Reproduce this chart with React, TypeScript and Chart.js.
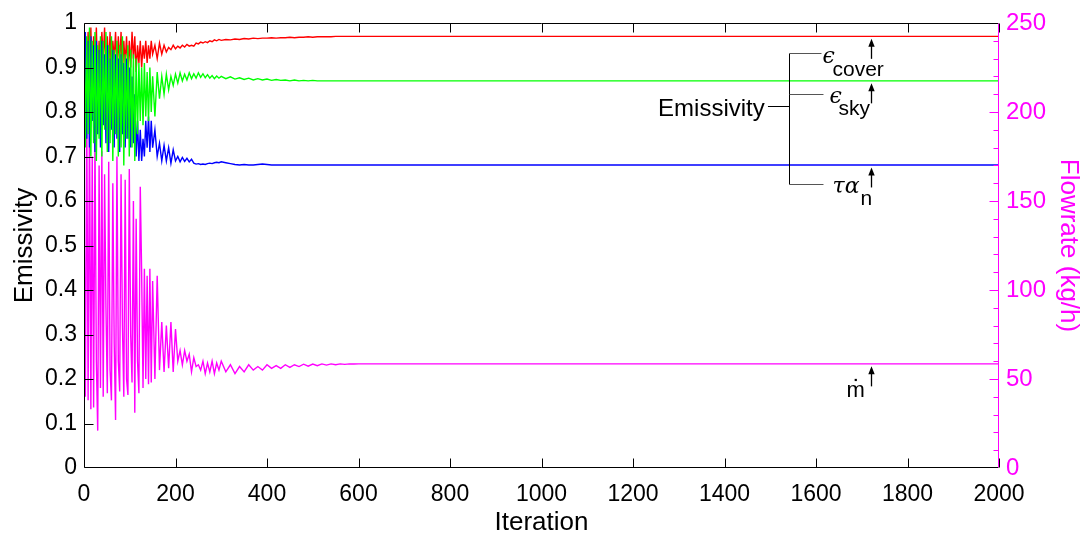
import React, { useEffect, useRef } from "react";
import { Chart, registerables } from "chart.js";

Chart.register(...registerables);

// Iteration sample positions (x values)
const ITERATIONS = [
  0, 3, 6, 9, 12, 15, 18, 21, 24, 27, 30, 33, 36, 39, 42, 45, 48, 51, 54, 57,
  60, 63, 66, 69, 72, 75, 78, 81, 84, 87, 90, 93, 96, 99, 102, 105, 108, 111, 114, 117,
  120, 123, 126, 129, 132, 135, 138, 141, 144, 147, 150,
  155, 160, 165, 170, 175, 180, 185, 190, 195, 200, 205, 210, 215, 220, 225, 230, 235, 240, 245,
  250, 255, 260, 265, 270, 275, 280, 285, 290, 295, 300,
  310, 320, 330, 340, 350, 360, 370, 380, 390, 400, 410, 420, 430, 440, 450, 460, 470, 480, 490,
  500, 510, 520, 530, 540, 550, 560, 570, 580, 590, 600,
  650, 700, 800, 2000,
];

// Cover emissivity (red)
const EPS_COVER = [
  0.83, 0.97, 0.88, 0.98, 0.90, 0.99, 0.86, 0.97, 0.91, 0.99,
  0.87, 0.96, 0.89, 0.98, 0.92, 0.99, 0.88, 0.97, 0.90, 0.98,
  0.87, 0.96, 0.92, 0.98, 0.89, 0.97, 0.91, 0.98, 0.88, 0.96,
  0.91, 0.97, 0.89, 0.96, 0.90, 0.98, 0.92, 0.97, 0.89, 0.95,
  0.91, 0.96, 0.90, 0.95, 0.92, 0.96, 0.91, 0.95, 0.92, 0.96,
  0.93,
  0.95, 0.92, 0.955, 0.93, 0.95, 0.935, 0.945, 0.94, 0.95, 0.942,
  0.948, 0.944, 0.95, 0.946, 0.952, 0.948, 0.95, 0.948, 0.955, 0.953,
  0.957, 0.955, 0.958, 0.956, 0.96, 0.958, 0.962, 0.96, 0.963, 0.961,
  0.963, 0.962, 0.964, 0.963, 0.965, 0.964, 0.966, 0.965, 0.966, 0.966,
  0.967, 0.966, 0.967, 0.967, 0.968, 0.967, 0.968, 0.968, 0.969, 0.968,
  0.969, 0.969, 0.969, 0.969, 0.97, 0.97, 0.97, 0.97, 0.97, 0.97,
  0.97, 0.97, 0.97, 0.97,
];

// Sky emissivity (green)
const EPS_SKY = [
  0.99, 0.72, 0.97, 0.75, 0.99, 0.70, 0.96, 0.73, 0.98, 0.69,
  0.95, 0.74, 0.97, 0.70, 0.96, 0.76, 0.98, 0.71, 0.95, 0.73,
  0.97, 0.69, 0.94, 0.75, 0.96, 0.70, 0.95, 0.72, 0.97, 0.68,
  0.93, 0.74, 0.95, 0.70, 0.94, 0.72, 0.93, 0.69, 0.92, 0.75,
  0.91, 0.78, 0.90, 0.77, 0.91, 0.79, 0.89, 0.78, 0.90, 0.80,
  0.88,
  0.79, 0.89, 0.83, 0.88, 0.84, 0.885, 0.85, 0.88, 0.86, 0.885,
  0.865, 0.888, 0.87, 0.885, 0.872, 0.888, 0.875, 0.886, 0.876, 0.888,
  0.878, 0.886, 0.877, 0.884, 0.876, 0.882, 0.875, 0.881, 0.876, 0.88,
  0.875, 0.879, 0.874, 0.877, 0.873, 0.876, 0.872, 0.875, 0.872, 0.874,
  0.871, 0.873, 0.871, 0.872, 0.870, 0.872, 0.870, 0.871, 0.870, 0.871,
  0.870, 0.870, 0.870, 0.870, 0.870, 0.870, 0.870, 0.870, 0.870, 0.870,
  0.87, 0.87, 0.87, 0.87,
];

// Transmittance-absorptance product (blue)
const TAU_ALPHA = [
  0.80, 0.98, 0.74, 0.96, 0.72, 0.97, 0.78, 0.95, 0.71, 0.96,
  0.75, 0.94, 0.72, 0.96, 0.77, 0.93, 0.73, 0.95, 0.71, 0.92,
  0.76, 0.94, 0.72, 0.93, 0.74, 0.92, 0.71, 0.93, 0.75, 0.91,
  0.72, 0.92, 0.74, 0.90, 0.72, 0.88, 0.73, 0.84, 0.70, 0.78,
  0.69, 0.76, 0.69, 0.74, 0.70, 0.78, 0.72, 0.79, 0.71, 0.78,
  0.72,
  0.76, 0.70, 0.73, 0.69, 0.725, 0.69, 0.72, 0.685, 0.715, 0.69,
  0.70, 0.688, 0.698, 0.689, 0.696, 0.688, 0.694, 0.685, 0.683, 0.684,
  0.682, 0.683, 0.682, 0.684, 0.685, 0.684, 0.686, 0.687, 0.686, 0.688,
  0.686, 0.684, 0.682, 0.681, 0.682, 0.681, 0.681, 0.682, 0.683, 0.682,
  0.681, 0.681, 0.681, 0.681, 0.681, 0.681, 0.681, 0.681, 0.681, 0.681,
  0.681, 0.681, 0.681, 0.681, 0.681, 0.681, 0.681, 0.681, 0.681, 0.681,
  0.681, 0.681, 0.681, 0.681,
];

// Flowrate in kg/h (magenta, right axis)
const FLOWRATE = [
  150, 40, 200, 38, 195, 33, 175, 34, 185, 60,
  21, 170, 45, 178, 40, 165, 90, 42, 172, 55,
  38, 160, 70, 27, 175, 60, 43, 165, 80, 40,
  162, 50, 41, 168, 75, 48, 150, 31, 140, 60,
  42, 158, 110, 45, 112, 50, 108, 47, 112, 48,
  105,
  50, 108, 55, 82, 54, 80, 56, 82, 54, 78,
  60, 66, 58, 66, 60, 64, 54, 62, 57, 58,
  55, 60, 53, 59, 54, 60, 53, 59, 55, 60,
  54, 58, 53, 57, 54, 58, 55, 57, 55, 58,
  56, 57.5, 56, 58, 56.5, 58, 57, 58.3, 57.2, 58.4,
  57.5, 58.5, 57.8, 58.5, 58, 58.5, 58.2, 58.5, 58.4, 58.5,
  58.5, 58.5, 58.5, 58.5,
];

const X_TICKS = [0, 200, 400, 600, 800, 1000, 1200, 1400, 1600, 1800, 2000];
const Y_TICKS = [0.1, 0.2, 0.3, 0.4, 0.5, 0.6, 0.7, 0.8, 0.9];
const Y1_MAJOR_TICKS = [50, 100, 150, 200];
const Y1_MINOR_TICKS = [10, 20, 30, 40, 60, 70, 80, 90, 110, 120, 130, 140, 160, 170, 180, 190, 210, 220, 230, 240];

const FONT = '"Liberation Sans", Arial, Helvetica, sans-serif';
const SERIF = '"DejaVu Serif", "Liberation Serif", serif';
const MAGENTA = "#ff00ff";

export default function App() {
  const ref = useRef<HTMLCanvasElement>(null);

  useEffect(() => {
    document.body.style.margin = "0";
    const canvas = ref.current;
    if (!canvas) return;
    const pts = (vals: number[]) => ITERATIONS.map((x, i) => ({ x, y: vals[i] }));

    const frame = {
      id: "frame",
      afterDraw(chart: any) {
        const { ctx, chartArea: ca } = chart;
        const xs = chart.scales.x;
        const ys = chart.scales.y;
        const y1 = chart.scales.y1;
        const L = Math.floor(ca.left) + 0.5;
        const R = Math.ceil(ca.right) - 0.5;
        const T = Math.floor(ca.top) + 0.5;
        const B = Math.ceil(ca.bottom) - 0.5;
        ctx.save();
        ctx.lineWidth = 1;
        ctx.strokeStyle = "#000";
        ctx.beginPath();
        ctx.moveTo(R, T);
        ctx.lineTo(L, T);
        ctx.lineTo(L, B);
        ctx.lineTo(R, B);
        ctx.stroke();
        ctx.beginPath();
        for (const v of X_TICKS) {
          const p = Math.round(xs.getPixelForValue(v)) + 0.5;
          ctx.moveTo(p, B);
          ctx.lineTo(p, B - 9);
          ctx.moveTo(p, T);
          ctx.lineTo(p, T + 9);
        }
        for (const v of Y_TICKS) {
          const p = Math.round(ys.getPixelForValue(v)) + 0.5;
          ctx.moveTo(L, p);
          ctx.lineTo(L + 9, p);
        }
        ctx.stroke();
        ctx.strokeStyle = MAGENTA;
        ctx.beginPath();
        ctx.moveTo(R, T);
        ctx.lineTo(R, B);
        for (const v of Y1_MAJOR_TICKS) {
          const p = Math.round(y1.getPixelForValue(v)) + 0.5;
          ctx.moveTo(R, p);
          ctx.lineTo(R - 9, p);
        }
        for (const v of Y1_MINOR_TICKS) {
          const p = Math.round(y1.getPixelForValue(v)) + 0.5;
          ctx.moveTo(R, p);
          ctx.lineTo(R - 5, p);
        }
        ctx.stroke();

        // Annotation: bracket
        const px = (it: number) => xs.getPixelForValue(it);
        const py = (v: number) => ys.getPixelForValue(v);
        const bx = Math.round(px(1540)) + 0.5;
        const yTop = Math.round(py(0.933)) + 0.5;
        const yMid = Math.round(py(0.840)) + 0.5;
        const yBot = Math.round(py(0.638)) + 0.5;
        const yCon = Math.round(py(0.813)) + 0.5;
        const hx = px(1612);
        ctx.strokeStyle = "#000";
        ctx.beginPath();
        ctx.moveTo(bx, yTop);
        ctx.lineTo(bx, yBot);
        ctx.moveTo(px(1495), yCon);
        ctx.lineTo(bx, yCon);
        ctx.stroke();
        ctx.strokeStyle = "#555";
        ctx.beginPath();
        ctx.moveTo(bx, yTop);
        ctx.lineTo(hx, yTop);
        ctx.moveTo(bx, yMid);
        ctx.lineTo(hx + 2, yMid);
        ctx.moveTo(bx, yBot);
        ctx.lineTo(hx + 2, yBot);
        ctx.stroke();

        ctx.fillStyle = "#000";
        ctx.font = `24px ${FONT}`;
        ctx.textAlign = "right";
        ctx.textBaseline = "alphabetic";
        ctx.fillText("Emissivity", px(1488), py(0.791));

        const ax = Math.round(px(1720)) + 0.5;
        const finals = [
          py(EPS_COVER[EPS_COVER.length - 1]),
          py(EPS_SKY[EPS_SKY.length - 1]),
          py(TAU_ALPHA[TAU_ALPHA.length - 1]),
          y1.getPixelForValue(FLOWRATE[FLOWRATE.length - 1]),
        ];
        ctx.strokeStyle = "#000";
        ctx.lineWidth = 1.3;
        for (const f of finals) {
          const tip = f + 2.5;
          ctx.beginPath();
          ctx.moveTo(ax, tip + 6);
          ctx.lineTo(ax, tip + 20);
          ctx.stroke();
          ctx.beginPath();
          ctx.moveTo(ax, tip);
          ctx.lineTo(ax - 3.2, tip + 8);
          ctx.lineTo(ax + 3.2, tip + 8);
          ctx.closePath();
          ctx.fill();
        }

        ctx.textAlign = "left";
        ctx.font = `italic 22px ${SERIF}`;
        ctx.fillText("\u03F5", ax - 49, finals[0] + 27);
        ctx.font = `21px ${FONT}`;
        ctx.fillText("cover", ax - 39, finals[0] + 40);
        ctx.font = `italic 22px ${SERIF}`;
        ctx.fillText("\u03F5", ax - 42, finals[1] + 22);
        ctx.font = `21px ${FONT}`;
        ctx.fillText("sky", ax - 33, finals[1] + 34);
        ctx.font = `italic 22px ${SERIF}`;
        ctx.fillText("\u03C4\u03B1", ax - 39, finals[2] + 28);
        ctx.font = `21px ${FONT}`;
        ctx.fillText("n", ax - 11, finals[2] + 40);
        ctx.font = `22px ${FONT}`;
        ctx.fillText("m", ax - 25, finals[3] + 33);
        const mw = ctx.measureText("m").width;
        ctx.fillRect(ax - 25 + mw / 2 - 1, finals[3] + 15, 2.2, 2.2);
        ctx.restore();
      },
    };

    const chart = new Chart(canvas, {
      type: "line",
      data: {
        datasets: [
          { label: "sky", data: pts(EPS_SKY), borderColor: "#00ff00", yAxisID: "y" },
          { label: "tau", data: pts(TAU_ALPHA), borderColor: "#0000ff", yAxisID: "y" },
          { label: "cover", data: pts(EPS_COVER), borderColor: "#ff0000", yAxisID: "y" },
          { label: "flow", data: pts(FLOWRATE), borderColor: MAGENTA, yAxisID: "y1" },
        ],
      },
      options: {
        responsive: false,
        animation: false,
        events: [],
        layout: { padding: { top: 23, left: 0, right: 0, bottom: 0 } },
        elements: {
          point: { radius: 0 },
          line: { borderWidth: 1.4, tension: 0 },
        },
        plugins: { legend: { display: false }, tooltip: { enabled: false } },
        scales: {
          x: {
            type: "linear",
            min: 0,
            max: 2000,
            afterFit: (s: any) => { s.height = 68; },
            grid: { display: false, drawTicks: false },
            border: { display: false },
            ticks: {
              stepSize: 200,
              autoSkip: false,
              maxRotation: 0,
              color: "#000",
              padding: 13,
              font: { family: FONT, size: 23 },
              callback: (v: any) => String(v),
            },
            title: {
              display: true,
              text: "Iteration",
              color: "#000",
              padding: { top: 0, bottom: -2 },
              font: { family: FONT, size: 26 },
            },
          },
          y: {
            position: "left",
            min: 0,
            max: 1,
            afterFit: (s: any) => { s.width = 84; },
            grid: { display: false, drawTicks: false },
            border: { display: false },
            ticks: {
              stepSize: 0.1,
              color: "#000",
              padding: 7,
              font: { family: FONT, size: 23 },
              callback: (v: any) => String(Math.round(Number(v) * 10) / 10),
            },
            title: {
              display: true,
              text: "Emissivity",
              color: "#000",
              padding: { top: 9, bottom: 0 },
              font: { family: FONT, size: 26 },
            },
          },
          y1: {
            position: "right",
            min: 0,
            max: 250,
            afterFit: (s: any) => { s.width = 85; },
            grid: { display: false, drawTicks: false },
            border: { display: false },
            ticks: {
              stepSize: 50,
              color: MAGENTA,
              padding: 7,
              font: { family: FONT, size: 24 },
            },
            title: {
              display: true,
              text: "Flowrate (kg/h)",
              color: MAGENTA,
              padding: { top: 0, bottom: 0 },
              font: { family: FONT, size: 26 },
            },
          },
        },
      },
      plugins: [frame],
    });
    return () => chart.destroy();
  }, []);

  return (
    <div style={{ width: 1084, height: 536 }}>
      <canvas ref={ref} width={1084} height={536} style={{ display: "block", width: 1084, height: 536 }} />
    </div>
  );
}
